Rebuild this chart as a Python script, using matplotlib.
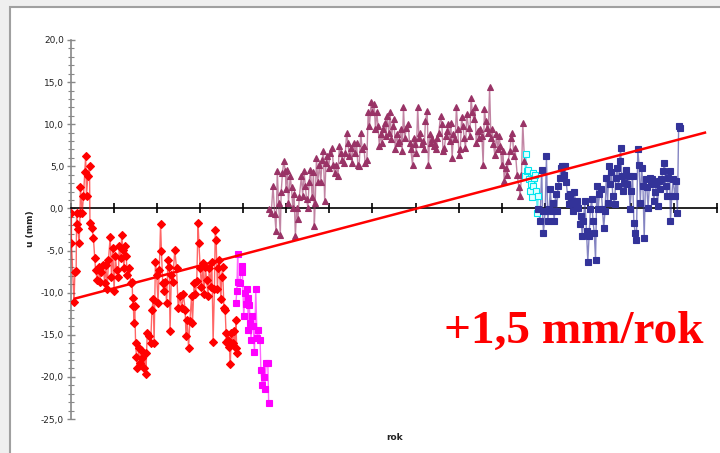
import numpy as np
import matplotlib
matplotlib.use("Agg")
import matplotlib.pyplot as plt
from matplotlib.patches import Rectangle
from matplotlib.ticker import MultipleLocator, FuncFormatter

# x in years from start of record, y = u (mm)
red_x = [0.01, 0.01, 0.07, 0.09, 0.12, 0.13, 0.15, 0.16, 0.19, 0.21, 0.22, 0.26, 0.29, 0.32, 0.34,
         0.36, 0.39, 0.43, 0.44, 0.49, 0.52, 0.55, 0.57, 0.61, 0.64, 0.67, 0.70, 0.75, 0.78, 0.81,
         0.84, 0.87, 0.91, 0.94, 0.97, 1.00, 1.03, 1.06, 1.10, 1.12, 1.15, 1.18, 1.20, 1.23, 1.25,
         1.28, 1.31, 1.35, 1.39, 1.42, 1.43, 1.45, 1.46, 1.48, 1.50, 1.52, 1.54, 1.57, 1.60, 1.63,
         1.66, 1.69, 1.73, 1.74, 1.77, 1.81, 1.85, 1.88, 1.91, 1.93, 1.96, 1.99, 2.02, 2.05, 2.08,
         2.10, 2.13, 2.16, 2.19, 2.22, 2.25, 2.28, 2.30, 2.33, 2.36,
         2.41, 2.45, 2.49, 2.53, 2.57, 2.61, 2.65, 2.67, 2.70, 2.73, 2.76, 2.80, 2.82, 2.86, 2.89,
         2.92, 2.95, 2.97, 3.00, 3.03, 3.06, 3.09, 3.12, 3.15, 3.18, 3.21, 3.24, 3.27, 3.30, 3.33,
         3.35, 3.37, 3.40, 3.42, 3.44, 3.48, 3.50, 3.52, 3.55, 3.58, 3.60, 3.61, 3.65, 3.68, 3.70,
         3.72, 3.75, 3.78, 3.82, 3.83, 3.85]
red_y = [-0.5, -4.1, -11.1, -7.6, -7.4, -0.5, -1.9, -2.5, -4.1, -0.5, 2.5, -0.5, 1.5, 4.3, 6.2,
         1.5, 3.8, 5.0, -1.7, -2.3, -3.5, -5.9, -7.3, -8.5, -6.9, -8.7, -7.6, -6.7, -8.9, -6.7,
         -9.6, -6.1, -3.4, -8.1, -4.7, -9.8, -5.7, -7.3, -8.1, -4.4, -5.9, -3.1, -4.9, -7.1, -4.5,
         -5.7, -7.9, -7.1, -8.9, -8.7, -10.6, -11.6, -13.6, -11.6, -16.0, -17.6, -19.0, -16.6, -18.4,
         -16.8, -17.8, -19.0, -17.2, -19.6, -14.8, -15.2, -16.0, -12.0, -10.8, -16.0, -6.3, -7.9,
         -11.2, -7.3, -1.8, -5.1, -8.9, -9.8, -8.7, -11.2, -6.1, -6.9, -14.6, -7.9, -8.7,
         -4.9, -7.1, -11.8, -10.4, -11.8, -10.2, -12.0, -15.2, -13.2, -16.6, -13.4, -10.4, -13.6,
         -8.8, -10.2, -8.6, -1.7, -4.1, -7.1, -9.3, -6.5, -10.2, -6.9, -8.5, -10.4, -7.1, -9.3,
         -6.3, -15.8, -9.6, -2.6, -3.7, -9.6, -7.1, -6.1, -10.8, -8.1, -6.9, -11.8, -12.0, -14.8,
         -15.8, -15.6, -16.4, -18.5, -14.8, -16.0, -14.6, -16.6, -13.2, -17.2]

magenta_x = [3.83, 3.85, 3.87, 3.88, 3.92, 3.96, 3.98, 4.01, 4.04, 4.06, 4.08, 4.10, 4.12, 4.14, 4.16,
             4.18, 4.21, 4.23, 4.26, 4.29, 4.32, 4.35, 4.39, 4.41, 4.44, 4.47, 4.50, 4.53, 4.57, 4.59]
magenta_y = [-11.2, -9.8, -5.4, -8.7, -8.8, -6.8, -7.6, -12.8, -10.0, -11.4, -9.6, -10.6, -14.4, -11.5,
             -13.6, -15.6, -12.8, -14.0, -17.1, -9.6, -15.4, -14.4, -15.6, -19.2, -21.0, -20.0, -21.4,
             -18.3, -18.3, -23.1]

tri_x = [4.59, 4.65, 4.69, 4.73, 4.76, 4.79, 4.82, 4.86, 4.88, 4.91, 4.94, 4.98, 4.99, 5.02, 5.05,
         5.09, 5.12, 5.15, 5.18, 5.21, 5.24, 5.27, 5.30, 5.35, 5.38, 5.41, 5.44, 5.47, 5.50, 5.53,
         5.56, 5.60, 5.63, 5.65, 5.67, 5.70, 5.73, 5.77, 5.80, 5.83, 5.86, 5.89, 5.92, 5.95, 5.98,
         6.02, 6.06, 6.09, 6.12, 6.15, 6.20, 6.23, 6.26, 6.29, 6.33, 6.37, 6.40, 6.43, 6.46, 6.49,
         6.52, 6.56, 6.60, 6.63, 6.66, 6.69, 6.73, 6.76, 6.80, 6.83, 6.87, 6.90, 6.93, 6.97, 7.00,
         7.04, 7.07, 7.10, 7.13, 7.16, 7.19, 7.22, 7.25, 7.28, 7.31, 7.34, 7.38, 7.41, 7.44, 7.47,
         7.50, 7.53, 7.56, 7.59,
         7.62, 7.66, 7.69, 7.72, 7.75, 7.79, 7.83, 7.86, 7.89, 7.93, 7.96, 7.99, 8.02, 8.05, 8.08,
         8.11, 8.14, 8.17, 8.20, 8.23, 8.27, 8.30, 8.33, 8.36, 8.39, 8.42, 8.45, 8.48, 8.51, 8.54,
         8.58, 8.61, 8.64, 8.67, 8.70, 8.73, 8.76, 8.79, 8.82, 8.85, 8.88, 8.92, 8.95, 8.98, 9.01,
         9.04, 9.07, 9.10, 9.13, 9.16, 9.19, 9.23, 9.26, 9.29, 9.32, 9.35, 9.38, 9.41, 9.44, 9.47,
         9.50, 9.54, 9.57, 9.60, 9.63, 9.66, 9.69, 9.72, 9.75, 9.78, 9.81, 9.84, 9.88, 9.91, 9.94,
         9.97, 10.00, 10.03, 10.06, 10.09, 10.12, 10.15, 10.19, 10.22, 10.25, 10.28, 10.31, 10.36,
         10.40, 10.43, 10.46, 10.49, 10.53]
tri_y = [-0.1, -0.6, 2.7, -0.7, -2.7, 4.4, 0.7, -3.1, 1.9, 4.2, 5.6, 4.4, 2.3, 4.6, 0.7,
         3.8, 2.5, 0.1, 1.7, -3.3, 0.1, -1.3, 1.3, 3.8, 1.5, 4.4, 2.7, 1.1, 0.1, 3.1,
         4.6, 1.3, 4.3, -2.1, 0.7, 6.0, 3.1, 5.2, 3.1, 5.8, 6.8, 0.9, 5.4, 6.2, 4.8,
         6.6, 7.2, 5.2, 4.2, 5.2, 3.8, 7.4, 6.6, 5.8, 5.4, 6.6, 9.0, 7.8, 6.2, 7.2,
         5.4, 7.8, 6.6, 7.8, 5.2, 5.0, 9.0, 7.0, 7.4, 5.4, 5.8, 11.4, 9.8, 12.6, 11.4,
         12.4, 9.4, 11.4, 9.8, 7.4, 8.8, 7.8, 9.4, 10.2, 8.6, 11.0, 9.0, 11.4, 8.2, 9.8,
         10.6, 7.0, 8.8, 7.8,
         8.0, 9.4, 6.8, 12.0, 8.4, 9.6, 10.0, 7.8, 7.0, 5.2, 8.4, 7.6, 6.6, 12.0, 8.4,
         9.0, 7.6, 8.0, 7.0, 10.4, 11.6, 5.2, 8.8, 7.8, 8.2, 7.4, 7.6, 7.0, 8.4, 9.0,
         11.0, 10.0, 6.8, 7.2, 8.6, 9.2, 10.0, 8.0, 10.2, 6.0, 8.8, 8.2, 12.0, 9.4, 6.4,
         7.0, 10.8, 9.8, 8.4, 7.2, 11.2, 9.6, 8.6, 13.1, 11.4, 10.6, 12.0, 7.8, 9.2, 8.4,
         9.4, 8.6, 5.2, 11.8, 10.4, 9.6, 9.0, 14.4, 8.4, 9.4, 7.6, 6.4, 8.8, 7.0, 8.6,
         7.4, 5.2, 6.8, 3.3, 4.8, 4.0, 5.6, 6.8, 8.4, 9.0, 6.2, 7.2, 4.0,
         2.5, 1.5, 4.0, 10.2, 5.6]

cyan_x = [10.54, 10.56, 10.58, 10.61, 10.64, 10.66, 10.67, 10.70, 10.72, 10.73, 10.76, 10.78, 10.80,
          10.83, 10.85]
cyan_y = [3.8, 6.5, 4.4, 4.6, 3.5, 2.1, 2.9, 1.3, 4.2, 2.7, 3.6, 4.0, 2.1, -0.5, 1.5]

blue_x = [10.85, 10.89, 10.93, 10.95, 10.97, 11.01, 11.04, 11.07, 11.10, 11.13, 11.16, 11.19, 11.22,
          11.25, 11.28, 11.31, 11.35, 11.38, 11.41, 11.44, 11.47, 11.50, 11.53, 11.56, 11.59, 11.62,
          11.66, 11.69, 11.72, 11.75, 11.78, 11.81, 11.84, 11.87, 11.90, 11.93, 11.97, 12.00, 12.03,
          12.06, 12.09, 12.12, 12.15, 12.18, 12.21, 12.24, 12.27, 12.31, 12.34, 12.37, 12.40, 12.43,
          12.46, 12.49, 12.52, 12.55, 12.58, 12.62, 12.65, 12.68, 12.71, 12.74, 12.76, 12.79, 12.82,
          12.85, 12.89, 12.92, 12.95, 12.98, 13.01, 13.04, 13.07, 13.10, 13.13, 13.16, 13.19, 13.22,
          13.25, 13.28, 13.31, 13.34, 13.37, 13.40, 13.44, 13.47, 13.50, 13.53, 13.56, 13.59, 13.62,
          13.65, 13.68, 13.71, 13.75, 13.78, 13.81, 13.84, 13.87, 13.90, 13.92, 13.95, 13.98, 14.02,
          14.05, 14.08, 14.11, 14.14]
blue_y = [-0.1, -1.5, 4.6, -0.3, -2.9, -0.3, 6.2, -1.5, -0.1, 2.3, -0.3, 0.7, -1.5,
          1.7, -0.3, 2.7, 3.6, 4.8, 5.0, 4.0, 5.0, 3.1, 1.5, 0.5, 1.7, 0.9,
          -0.3, 1.9, 0.5, 0.9, 0.1, -1.9, -0.9, -3.3, -1.5, 0.9, -2.7, -6.3, -3.3,
          -0.1, 1.1, -1.5, -2.9, -6.1, 2.7, -0.1, 1.7, 2.3, -0.1, -2.3, -0.3, 3.6,
          0.7, 5.0, 2.9, 4.3, 1.5, 0.5, 3.6, 4.8, 2.7, 5.6, 7.2, 3.8, 2.1,
          3.0, 4.6, 2.9, 3.8, -0.1, 2.1, 3.8, -1.7, -2.9, -3.7, 7.0, 5.2, 0.7,
          4.8, 2.7, -3.5, 3.5, 2.5, 0.1, 3.6, 2.9, 3.5, 0.9, 1.9, 2.9, 0.3,
          3.3, 2.3, 3.5, 4.4, 5.4, 2.7, 1.5, 3.6, 4.4, -1.5, 1.5, 3.5, 1.5,
          3.3, -0.5, 9.8, 9.6]

trend_x = [0.09, 14.72]
trend_y = [-10.7, 9.0]

fig = plt.figure(figsize=(7.2, 4.53), dpi=100, facecolor='#efefef')
# chart frame, kept behind the axes
fig.patches.append(Rectangle((10 / 720, -0.05), 1.0, 1 - 7 / 453 + 0.05, transform=fig.transFigure,
                             facecolor='white', edgecolor='#a0a0a0', linewidth=1.5, zorder=-10))

ax = fig.add_axes([71 / 720, 1 - 419 / 453, (717 - 71) / 720, (419 - 40) / 453])
ax.set_zorder(5)
ax.set_facecolor('none')
ax.set_xlim(0, 15)
ax.set_ylim(-25, 20)

series = [
    (red_x, red_y, '#ff0000', 'D', 4.0, '#ff0000'),
    (magenta_x, magenta_y, '#ff00ff', 's', 4.0, '#ff00ff'),
    (tri_x, tri_y, '#993366', '^', 5.0, '#993366'),
    (cyan_x, cyan_y, '#00e5ee', 's', 4.0, '#e0ffff'),
    (blue_x, blue_y, '#333399', 's', 4.5, '#333399'),
]
for x, y, c, m, ms, fc in series:
    ax.plot(x, y, color=c, lw=1.0, alpha=0.6, zorder=3)
    ax.plot(x, y, ls='none', marker=m, ms=ms, color=c, mfc=fc, mec=c, mew=0.8, zorder=4)

ax.plot(trend_x, trend_y, color='#ff0000', lw=1.8, zorder=5)

for s in ['top', 'right']:
    ax.spines[s].set_visible(False)
ax.spines['bottom'].set_position(('data', 0))
ax.spines['bottom'].set_color('black')
ax.spines['bottom'].set_linewidth(1.2)
ax.spines['left'].set_color('#888888')
ax.spines['left'].set_linewidth(1.2)

ax.set_xticks(range(16))
ax.set_xticklabels([])
ax.tick_params(axis='x', direction='inout', length=7, width=1.2, color='black')

ax.set_yticks(np.arange(-25, 21, 5))
ax.yaxis.set_minor_locator(MultipleLocator(1))
ax.yaxis.set_major_formatter(FuncFormatter(lambda v, p: f"{v:.1f}".replace('.', ',')))
ax.tick_params(axis='y', which='major', direction='inout', length=6, width=1, color='#888888',
               labelsize=6.5, labelcolor='#222222', pad=2)
ax.tick_params(axis='y', which='minor', direction='inout', length=4, width=0.8, color='#888888')

fig.text(30 / 720, 1 - 229 / 453, 'u (mm)', rotation=90, ha='center', va='center',
         fontsize=6.5, fontweight='bold', color='#222222')
fig.text(395 / 720, 1 - 437 / 453, 'rok', ha='center', va='center',
         fontsize=6.5, fontweight='bold', color='#222222')
fig.text(444 / 720, 1 - 343 / 453, '+1,5 mm/rok', ha='left', va='baseline',
         fontsize=34, fontweight='bold', family='Liberation Serif', color='#ff0000')

fig.savefig('out.png', dpi=100, facecolor=fig.get_facecolor())
